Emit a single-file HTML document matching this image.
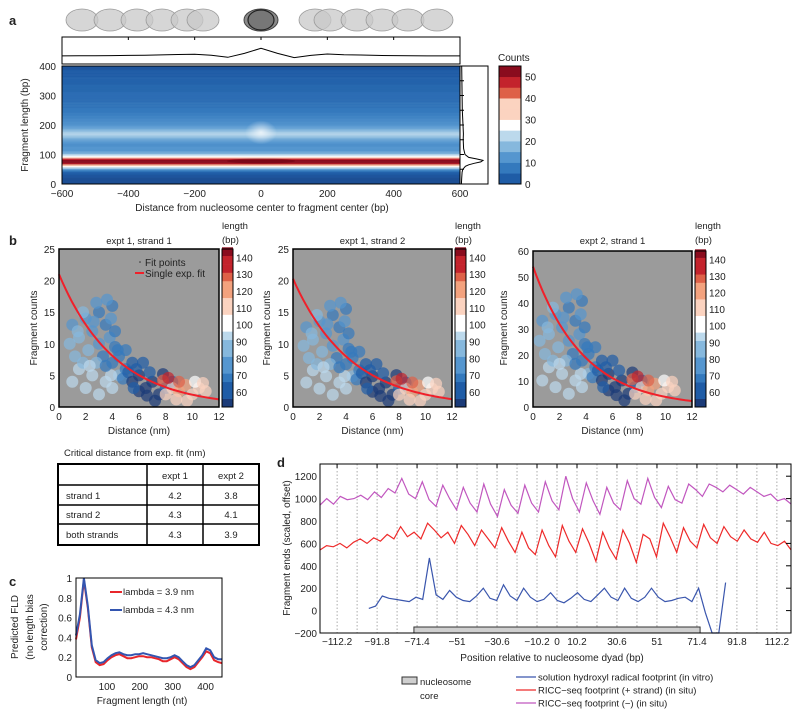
<!DOCTYPE html>
<html><head><meta charset="utf-8">
<style>
html,body{margin:0;padding:0;background:#fff;}
svg{display:block;font-family:"Liberation Sans",sans-serif;}
text{fill:#222;}
</style></head>
<body>
<svg id="fig" width="800" height="718" viewBox="0 0 800 718" xmlns="http://www.w3.org/2000/svg">
<defs>
<radialGradient id="blob" cx="50%" cy="50%" r="50%">
<stop offset="0%" stop-color="#ffffff" stop-opacity="0.75"/>
<stop offset="100%" stop-color="#ffffff" stop-opacity="0"/>
</radialGradient>
</defs>
<g id="gA"></g>
<g id="gB"></g>
<g id="gT"></g>
<g id="gC"></g>
<g id="gD"></g>
</svg>
<script>
// ---------- Panel a data ----------
const hmLen = [];
for (let i = 0; i <= 80; i++) hmLen.push(i * 5);
const hmCount = [3,3,3,3,3,4,4,5,6,
 10,16,24,31,38,52,56,56,50,34,29,24,19,17,
 15,15,15,14,14,15,16,17,19,21,
 23,24,23,21,19,17,16,15,
 14,14,13,13,12,12,11,11,10,10,
 10,9,9,9,9,8,8,8,8,8,
 8,8,7,7,7,7,7,6,6,6,6,6,5,5,5,5,5,4,4,4];
const profPos = [-600,-550,-500,-450,-400,-350,-300,-250,-200,-150,-100,-50,0,50,100,150,200,250,300,350,400,450,500,550,600];
const profVal = [0.30,0.31,0.31,0.32,0.33,0.34,0.36,0.38,0.40,0.34,0.22,0.45,0.75,0.45,0.20,0.33,0.41,0.37,0.35,0.33,0.32,0.31,0.30,0.30,0.30];
const margLen = [0,20,40,50,60,65,70,75,80,85,90,100,120,150,170,200,250,300,350,400];
const margVal = [0.02,0.03,0.05,0.08,0.2,0.35,0.6,0.9,1.0,0.7,0.35,0.18,0.12,0.1,0.11,0.09,0.06,0.05,0.04,0.03];
const cbTicks = [0,10,20,30,40,50];
const aXTicks = [-600,-400,-200,0,200,400,600];
const aYTicks = [0,100,200,300,400];
const nucX = [82,110,137,162,187,203,315,330,357,382,408,437];

// ---------- Panel b data ----------
const ptX = [1,1.5,2,2.5,3,3.5,4,3.8,2.2,1.2,3,4.2,3.6,2.8,1.8,4.4,3.3,0.8,2.6,3.9,1.4,
 1,1.5,2,2.5,3,3.5,4,1.8,4.5,2.8,2.3,3.9,
 4,4.5,5,5.5,5,4.8,3.5,5.2,4.2,
 5.5,6,6.5,7,6,7.5,5.8,6.8,8,7.2,8.5,6.3,6.6,7.8,5.6,
 8,8.5,9,9.5,10,10.5,9,8.8,10.2,11,7.8,9.6,10.8,8.2];
const ptY = [13,11,14,12,15,13,16,11,9,8,10,12,17,16.5,15,9,8,10,13.5,14,12,
 4,6,3,5,2,4,3,7,5,7,6.5,5,
 7,8,6,7,9,4.5,6.5,5.5,9.5,
 4,5,3,4,2.5,2,6,5.5,3,1,4,7,1.8,5.2,3,
 2,3,2.5,3.5,2,3,4,1.2,4,2.5,4.2,1,3.8,4.6];
const ptLen = [80,82,78,75,72,70,72,75,85,88,80,70,75,80,82,72,70,85,76,74,84,
 95,92,98,95,97,92,95,90,88,88,96,94,
 68,65,65,62,66,66,70,63,72,
 55,55,54,56,55,55,58,57,58,55,60,58,54,56,57,
 110,115,120,118,112,110,125,108,105,108,130,115,112,135];
const plotTitles = ["expt 1, strand 1","expt 1, strand 2","expt 2, strand 1"];
const plotYMax = [25,25,60];
const plotYScale = [1,0.97,2.55];
const fitA = [21,20.3,54];
const fitL = [4.2,4.3,3.8];
const bYTicks1 = [0,5,10,15,20,25];
const bYTicks3 = [0,10,20,30,40,50,60];
const bXTicks = [0,2,4,6,8,10,12];
const lenTicks = [60,70,80,90,100,110,120,130,140];

// ---------- Table data ----------
const tblRows = ["strand 1","strand 2","both strands"];
const tblE1 = ["4.2","4.3","4.3"];
const tblE2 = ["3.8","4.1","3.9"];

// ---------- Panel c data ----------
const cRed = [0.38,0.6,0.98,0.7,0.3,0.15,0.12,0.13,0.17,0.2,0.22,0.23,0.21,0.19,0.19,0.2,0.21,0.21,0.2,0.2,0.19,0.18,0.16,0.16,0.18,0.2,0.18,0.14,0.1,0.08,0.1,0.15,0.2,0.26,0.24,0.17,0.15,0.14];
const cBlue = [0.42,0.63,1.0,0.72,0.32,0.17,0.14,0.15,0.19,0.22,0.24,0.25,0.23,0.22,0.22,0.23,0.23,0.24,0.23,0.22,0.21,0.2,0.19,0.19,0.2,0.22,0.2,0.16,0.12,0.1,0.12,0.17,0.22,0.29,0.27,0.2,0.18,0.18];
const cXTicks = [100,200,300,400];
const cYTicks = [0,0.2,0.4,0.6,0.8,1];
const cYLabels = ["0","0.2","0.4","0.6","0.8","1"];

// ---------- Panel d data ----------
const dRed = [540,580,570,600,560,610,640,600,650,620,680,640,750,660,700,640,780,720,650,700,600,760,680,580,720,640,560,740,620,520,700,560,500,720,580,480,760,620,520,730,600,440,700,560,460,720,600,430,680,640,480,780,660,520,740,620,560,770,650,600,750,660,620,720,640,610,700,600,580,620,540];
const dPurple = [940,1000,950,1020,990,1000,1030,990,1060,1010,1090,1050,1180,1040,1000,1150,990,930,1120,1000,900,1100,960,880,1130,950,840,1080,940,870,1120,960,880,1150,980,900,1200,1000,880,1140,980,860,1100,960,900,1160,1000,950,1180,1010,920,1110,990,960,1130,1080,1020,1130,1100,1060,1120,1080,1040,1100,1060,1020,1040,980,1000,950];
const dBlue = [20,40,130,110,100,90,80,120,100,470,140,100,180,120,90,80,130,200,110,90,230,130,90,200,120,80,100,160,90,70,110,160,100,80,140,200,120,90,200,110,80,120,200,120,80,90,110,120,80,200,-20,-200,-200,250];
const dXTicks = [-112.2,-91.8,-71.4,-51,-30.6,-10.2,0,10.2,30.6,51,71.4,91.8,112.2];
const dXLabels = ["\u2212112.2","\u221291.8","\u221271.4","\u221251","\u221230.6","\u221210.2","0","10.2","30.6","51","71.4","91.8","112.2"];
const dYTicks = [-200,0,200,400,600,800,1000,1200];
const dCore = [-73,73];

// ---------- helpers ----------
const NS = "http://www.w3.org/2000/svg";
function mk(tag, attrs, parent) {
  const e = document.createElementNS(NS, tag);
  for (const k in attrs) e.setAttribute(k, attrs[k]);
  parent.appendChild(e);
  return e;
}
function txt(s, x, y, size, anchor, parent, extra) {
  const e = mk("text", Object.assign({x:x, y:y, "font-size":size, "text-anchor":anchor||"start"}, extra||{}), parent);
  e.textContent = s;
  return e;
}
function lerp(a,b,t){return a+(b-a)*t;}
function hex(c){return [parseInt(c.substr(1,2),16),parseInt(c.substr(3,2),16),parseInt(c.substr(5,2),16)];}
const cmap = ["#1b3b78","#1f5ca6","#3479bd","#5596cf","#86b8dd","#bcd9ec","#ffffff","#fbd3c0","#f3a27e","#de6148","#c3232c","#8a0c1e"];
function cmapColor(v, vmin, vmax, discrete) {
  let t = (v - vmin) / (vmax - vmin); t = Math.max(0, Math.min(0.9999, t));
  const f = t * (cmap.length - 1);
  if (discrete) return cmap[Math.round(f)];
  const i = Math.floor(f), r = f - i;
  const a = hex(cmap[i]), b = hex(cmap[Math.min(i+1, cmap.length-1)]);
  return "rgb(" + Math.round(lerp(a[0],b[0],r)) + "," + Math.round(lerp(a[1],b[1],r)) + "," + Math.round(lerp(a[2],b[2],r)) + ")";
}

// ================= Panel a =================
const gA = document.getElementById("gA");
const ax = x => 62 + (x + 600) / 1200 * 398;
const ay = L => 184 - L / 400 * 118;
let t = txt("a", 9, 25, 13, "start", gA, {"font-weight":"bold"});


nucX.forEach((x, i) => {
  const e = mk("ellipse", {cx:x, cy:20, rx:16, ry:11, fill:"#c8c8c8", "fill-opacity":0.75, stroke:"#9a9a9a", "stroke-width":0.8}, gA);
  
  
});
let e = mk("ellipse", {cx:261, cy:20, rx:17, ry:11, fill:"#8a8a8a", stroke:"#444", "stroke-width":1}, gA);


e = mk("ellipse", {cx:261, cy:20, rx:13, ry:10, fill:"#777", stroke:"#222", "stroke-width":1.2}, gA);



// top profile
e = mk("rect", {x:62, y:37, width:398, height:27, fill:"#fff", stroke:"#000", "stroke-width":1}, gA);


let d = profPos.map((p, i) => (i ? "L" : "M") + ax(p).toFixed(1) + "," + (61 - profVal[i] * 17).toFixed(1)).join(" ");
e = mk("path", {d:d, fill:"none", stroke:"#000", "stroke-width":1}, gA);


aXTicks.forEach(v => {
  const tk = mk("line", {x1:ax(v), x2:ax(v), y1:37, y2:40, stroke:"#000"}, gA);
  
  
});

// heatmap rows
hmLen.forEach((L, i) => {
  const y0 = ay(L + 2.5), y1 = ay(L - 2.5);
  const r = mk("rect", {x:62, y:Math.max(66, y0).toFixed(2), width:398, height:(Math.min(184, y1) - Math.max(66, y0) + 0.3).toFixed(2), fill:cmapColor(hmCount[i], 0, 55, false)}, gA);
  
  
});
e = mk("ellipse", {cx:ax(0), cy:ay(175), rx:16, ry:12, fill:"url(#blob)"}, gA);


e = mk("ellipse", {cx:ax(0), cy:ay(78), rx:34, ry:2.5, fill:"#6a0010", "fill-opacity":0.5}, gA);


e = mk("rect", {x:62, y:66, width:398, height:118, fill:"none", stroke:"#000", "stroke-width":1}, gA);


aXTicks.forEach(v => {
  const l = txt(v < 0 ? "\u2212" + (-v) : String(v), ax(v), 197, 10, "middle", gA);
  
  
});
aYTicks.forEach(v => {
  const l = txt(String(v), 56, ay(v) + 4, 10, "end", gA);
  
  
});
t = txt("Distance from nucleosome center to fragment center (bp)", 262, 211, 10, "middle", gA);


t = txt("Fragment length (bp)", 0, 0, 10, "middle", gA, {transform:"translate(28,125) rotate(-90)"});



// marginal
e = mk("rect", {x:460, y:66, width:28, height:118, fill:"#fff", stroke:"#000", "stroke-width":1}, gA);


d = margLen.map((L, i) => (i ? "L" : "M") + (461 + margVal[i] * 22).toFixed(1) + "," + ay(L).toFixed(1)).join(" ");
e = mk("path", {d:d, fill:"none", stroke:"#000", "stroke-width":1}, gA);


[50,100,150,200,250,300,350].forEach(v => {
  const tk = mk("line", {x1:460, x2:464, y1:ay(v), y2:ay(v), stroke:"#000"}, gA);
  
  
});

// colorbar
for (let k = 0; k < 11; k++) {
  const y0 = 184 - (k + 1) * 5 * 118 / 55;
  const r = mk("rect", {x:499, y:y0.toFixed(2), width:22, height:(5 * 118 / 55 + 0.3).toFixed(2), fill:cmapColor(k * 5 + 2.5, 0, 55, true)}, gA);
  
  
}
e = mk("rect", {x:499, y:66, width:22, height:118, fill:"none", stroke:"#000"}, gA);


cbTicks.forEach(v => {
  const yy = 184 - v * 118 / 55;
  const l = txt(String(v), 525, yy + 4, 10, "start", gA);
  
  
});
t = txt("Counts", 498, 61, 10, "start", gA);



// ================= Panel b =================
const gB = document.getElementById("gB");
t = txt("b", 9, 245, 13, "start", gB, {"font-weight":"bold"});


const bL = [59,293,533], bR = [219,452,692], bTopA = [249,249,251], bBot = 407, bYLab = [37,270,507];
for (let p = 0; p < 3; p++) {
  const bTop = bTopA[p];
  const g = mk("g", {}, gB);
  
  
  const bx = x => bL[p] + x / 12 * (bR[p] - bL[p]);
  const by = y => bBot - y / plotYMax[p] * (bBot - bTop);
  let r = mk("rect", {x:bL[p], y:bTop, width:bR[p] - bL[p], height:bBot - bTop, fill:"#9b9b9b"}, g);
  
  
  ptX.forEach((x, i) => {
    const c = mk("circle", {cx:bx(x + (p === 2 ? -0.3 : 0)).toFixed(1), cy:by(ptY[i] * plotYScale[p]).toFixed(1), r:6, fill:cmapColor(ptLen[i], 52, 145, true), "fill-opacity":0.7}, g);
    
    
  });
  let fd = "";
  for (let k = 0; k <= 48; k++) {
    const x = k * 0.25;
    fd += (k ? "L" : "M") + bx(x).toFixed(1) + "," + by(fitA[p] * Math.exp(-x / fitL[p])).toFixed(1);
  }
  const fl = mk("path", {d:fd, fill:"none", stroke:"#f0202a", "stroke-width":2}, g);
  
  
  r = mk("rect", {x:bL[p], y:bTop, width:bR[p] - bL[p], height:bBot - bTop, fill:"none", stroke:"#000", "stroke-width":1.5}, g);
  
  
  const yt = p === 2 ? bYTicks3 : bYTicks1;
  yt.forEach(v => {
    const l = txt(String(v), bL[p] - 4, by(v) + 4, 10, "end", g);
    
    
  });
  bXTicks.forEach(v => {
    const l = txt(String(v), bx(v), 420, 10, "middle", g);
    
    
  });
  let tt = txt("Distance (nm)", (bL[p] + bR[p]) / 2, 434, 10, "middle", g);
  
  
  tt = txt(plotTitles[p], (bL[p] + bR[p]) / 2, 244, 9.5, "middle", g);
  
  
  tt = txt("Fragment counts", 0, 0, 10, "middle", g, {transform:"translate(" + bYLab[p] + ",328) rotate(-90)"});
  
  
  // length colorbar
  const cbx = bR[p] + 3;
  const ly = L => bBot - (L - 51) / 94 * (bBot - bTop);
  for (let L = 51; L < 145; L += 5) {
    const cr = mk("rect", {x:cbx, y:ly(L + 5).toFixed(2), width:11, height:((bBot - bTop) * 5 / 94 + 0.3).toFixed(2), fill:cmapColor(L + 2.5, 52, 145, true)}, g);
    
    
  }
  r = mk("rect", {x:cbx, y:bTop, width:11, height:bBot - bTop, fill:"none", stroke:"#000"}, g);
  
  
  lenTicks.forEach(v => {
    const l = txt(String(v), cbx + 14, ly(v) + 4, 10, "start", g);
    
    
  });
  tt = txt("length", cbx, 229, 9.5, "start", g);
  
  
  tt = txt("(bp)", cbx, 243, 9.5, "start", g);
  
  
}
e = mk("circle", {cx:140, cy:262, r:0.8, fill:"#333"}, gB);


t = txt("Fit points", 145, 266, 10, "start", gB);


e = mk("line", {x1:135, x2:144, y1:273, y2:273, stroke:"#f0202a", "stroke-width":2}, gB);


t = txt("Single exp. fit", 145, 277, 10, "start", gB);



// ================= Table =================
const gT = document.getElementById("gT");
t = txt("Critical distance from exp. fit (nm)", 64, 456, 9.5, "start", gT);


e = mk("rect", {x:58, y:464, width:201, height:81, fill:"#fff", stroke:"#000", "stroke-width":2}, gT);


[147,203].forEach(x => {
  const l = mk("line", {x1:x, x2:x, y1:464, y2:545, stroke:"#000", "stroke-width":1.5}, gT);
  
  
});
[485,505,524].forEach(y => {
  const l = mk("line", {x1:58, x2:259, y1:y, y2:y, stroke:"#000", "stroke-width":1.5}, gT);
  
  
});
t = txt("expt 1", 175, 479, 9.5, "middle", gT);


t = txt("expt 2", 231, 479, 9.5, "middle", gT);


const rowY = [499,518,538];
tblRows.forEach((s, i) => {
  let c = txt(s, 66, rowY[i], 9.5, "start", gT);
  
  
  c = txt(tblE1[i], 175, rowY[i], 9.5, "middle", gT);
  
  
  c = txt(tblE2[i], 231, rowY[i], 9.5, "middle", gT);
  
  
});

// ================= Panel c =================
const gC = document.getElementById("gC");
const cx = x => 76 + (x - 6) / 444 * 146;
const cy = v => 677 - v * 99;
t = txt("c", 9, 586, 13, "start", gC, {"font-weight":"bold"});


e = mk("rect", {x:76, y:578, width:146, height:99, fill:"#fff"}, gC);


[[cRed, "#e8262b", "fld-lambda-3.9-line"], [cBlue, "#3355b0", "fld-lambda-4.3-line"]].forEach(s => {
  const pd = s[0].map((v, i) => (i ? "L" : "M") + cx(6 + i * 12).toFixed(1) + "," + cy(v).toFixed(1)).join(" ");
  const l = mk("path", {d:pd, fill:"none", stroke:s[1], "stroke-width":2}, gC);
  
  
});
e = mk("rect", {x:76, y:578, width:146, height:99, fill:"none", stroke:"#000", "stroke-width":1}, gC);


cXTicks.forEach(v => {
  const l = txt(String(v), cx(v), 690, 10, "middle", gC);
  
  
});
cYTicks.forEach((v, i) => {
  const l = txt(cYLabels[i], 72, cy(v) + 4, 10, "end", gC);
  
  
});
t = txt("Fragment length (nt)", 142, 704, 10, "middle", gC);


t = txt("Predicted FLD", 0, 0, 10, "middle", gC, {transform:"translate(18,627) rotate(-90)"});


t = txt("(no length bias", 0, 0, 10, "middle", gC, {transform:"translate(33,627) rotate(-90)"});


t = txt("correction)", 0, 0, 10, "middle", gC, {transform:"translate(47,627) rotate(-90)"});


e = mk("line", {x1:110, x2:122, y1:592, y2:592, stroke:"#e8262b", "stroke-width":2}, gC);


t = txt("lambda = 3.9 nm", 123, 595, 9.5, "start", gC);


e = mk("line", {x1:110, x2:122, y1:610, y2:610, stroke:"#3355b0", "stroke-width":2}, gC);


t = txt("lambda = 4.3 nm", 123, 613, 9.5, "start", gC);



// ================= Panel d =================
const gD = document.getElementById("gD");
const dx = x => 557 + x * 1.96;
const dy = v => 633 - (v + 200) * 0.112;
t = txt("d", 277, 467, 13, "start", gD, {"font-weight":"bold"});


for (let k = -11; k <= 11; k++) {
  const x = dx(k * 10.2);
  const gl = mk("line", {x1:x, x2:x, y1:464, y2:633, stroke:"#888", "stroke-width":0.7, "stroke-dasharray":"1.5,2"}, gD);
  
  
}
e = mk("rect", {x:dx(dCore[0]), y:627, width:dx(dCore[1]) - dx(dCore[0]), height:6, fill:"#cfcfcf", stroke:"#333", "stroke-width":1}, gD);


function seriesPath(vals, x0, x1) {
  const n = vals.length;
  return vals.map((v, i) => (i ? "L" : "M") + dx(x0 + i * (x1 - x0) / (n - 1)).toFixed(1) + "," + Math.min(633, dy(v)).toFixed(1)).join(" ");
}
e = mk("path", {d:seriesPath(dPurple, -121, 119.5), fill:"none", stroke:"#c157bf", "stroke-width":1.2}, gD);


e = mk("path", {d:seriesPath(dRed, -121, 119.5), fill:"none", stroke:"#ee2a2a", "stroke-width":1.2}, gD);


e = mk("path", {d:seriesPath(dBlue, -96, 86), fill:"none", stroke:"#3a56ad", "stroke-width":1.2}, gD);


e = mk("rect", {x:320, y:464, width:471, height:169, fill:"none", stroke:"#000", "stroke-width":1}, gD);


dYTicks.forEach(v => {
  const l = txt(v < 0 ? "\u2212" + (-v) : String(v), 317, dy(v) + 4, 10, "end", gD);
  
  
  const tk = mk("line", {x1:786, x2:791, y1:dy(v), y2:dy(v), stroke:"#000"}, gD);
  
  
});
dXTicks.forEach((v, i) => {
  const l = txt(dXLabels[i], dx(v), 645, 10, "middle", gD);
  
  
  const tk = mk("line", {x1:dx(v), x2:dx(v), y1:464, y2:468, stroke:"#000"}, gD);
  
  
});
t = txt("Position relative to nucleosome dyad (bp)", 552, 661, 10, "middle", gD);


t = txt("Fragment ends (scaled, offset)", 0, 0, 10, "middle", gD, {transform:"translate(290,548) rotate(-90)"});


e = mk("rect", {x:402, y:677, width:15, height:7, fill:"#cfcfcf", stroke:"#333"}, gD);


t = txt("nucleosome", 420, 685, 9.5, "start", gD);


t = txt("core", 420, 699, 9.5, "start", gD);


const legD = [["#3a56ad","solution hydroxyl radical footprint (in vitro)","legend-hydroxyl-footprint"],
              ["#ee2a2a","RICC\u2212seq footprint (+ strand) (in situ)","legend-ricc-plus"],
              ["#c157bf","RICC\u2212seq footprint (\u2212) (in situ)","legend-ricc-minus"]];
legD.forEach((s, i) => {
  const y = 677 + i * 13;
  const l = mk("line", {x1:516, x2:536, y1:y, y2:y, stroke:s[0], "stroke-width":1.3}, gD);
  
  
  const tx = txt(s[1], 538, y + 3.5, 9.5, "start", gD);
  
  
});
</script>
</body></html>
